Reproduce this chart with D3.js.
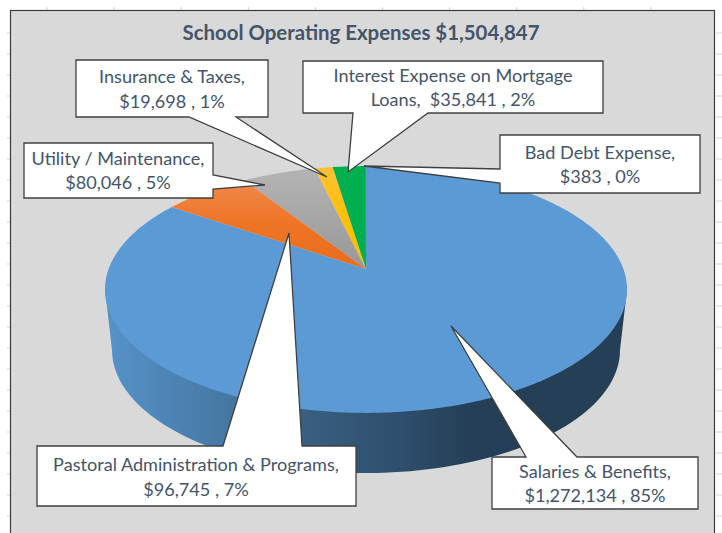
<!DOCTYPE html>
<html lang="en">
<head>
<meta charset="utf-8">
<title>School Operating Expenses</title>
<script src="https://cdn.jsdelivr.net/npm/d3@7"></script>
<style>
  html, body { margin: 0; padding: 0; background: #fff; }
  svg { display: block; }
  text { font-family: Lato, "Open Sans", sans-serif; fill: #44546a; white-space: pre; }
</style>
</head>
<body>
<script>
// data, clockwise from 12 o'clock
var categories = ["Salaries & Benefits", "Pastoral Administration & Programs", "Utility / Maintenance", "Insurance & Taxes", "Interest Expense on Mortgage Loans", "Bad Debt Expense"]
var amounts = [1272134, 96745, 80046, 19698, 35841, 383]
var percentLabels = ["85%", "7%", "5%", "1%", "2%", "0%"]
var titleText = "School Operating Expenses $1,504,847"

var w = 722, h = 533
var svg = d3.select("body").append("svg").attr("width", w).attr("height", h)
var defs = svg.append("defs")

// pie geometry, the picture is a tilted pie so the centre sits above the middle of the ellipse
var cx = 366, cy = 269
var tilt = 0.166
var xScale = d3.scaleLinear().domain([-1, 1]).range([cx - 257.4, cx + 257.4])
var yScale = d3.scaleLinear().domain([-1, 1]).range([cy + 120, cy - 120])

function project(angle, r) {
    var X = r * Math.sin(angle), Y = r * Math.cos(angle)
    var k = 1 + tilt * Y
    return [xScale(X / k), yScale(Y / k)]
}

// spreadsheet tick marks behind the chart
var ticks = svg.append("g").attr("stroke", "#d4d4d4").attr("stroke-width", 1)
d3.range(47, 700, 67.1).forEach(function(x) {
    ticks.append("line").attr("x1", x).attr("x2", x).attr("y1", 7).attr("y2", 10)
})
d3.range(33, h, 21).forEach(function(y) {
    ticks.append("line").attr("x1", 7).attr("x2", 10).attr("y1", y).attr("y2", y)
    ticks.append("line").attr("x1", 716).attr("x2", 722).attr("y1", y).attr("y2", y)
})

// chart area, no bottom border because the crop cuts it off
svg.append("rect").attr("x", 10.5).attr("y", 10.5).attr("width", 704).attr("height", h)
    .attr("fill", "#d9d9d9").attr("stroke", "#3c3c3c").attr("stroke-width", 1.2)

svg.append("text").attr("x", 361).attr("y", 40).attr("text-anchor", "middle")
    .style("font-size", "20.4px").style("font-weight", 700).text(titleText)

function gradient(id, attrs, stops) {
    var g = defs.append("linearGradient").attr("id", id).attr("gradientUnits", "userSpaceOnUse")
    for (var k in attrs) g.attr(k, attrs[k])
    stops.forEach(function(s) {
        g.append("stop").attr("offset", s[0]).attr("stop-color", s[1])
    })
}

gradient("side", {x1: 105, x2: 627, y1: 0, y2: 0}, [[0, "#5692c9"], [0.26, "#44759f"], [0.37, "#3a5f82"], [0.57, "#2e4e6c"], [0.7, "#243f56"], [1, "#243f56"]])
var vertical = {x1: 0, x2: 0, y1: 166, y2: 269}
gradient("orange", vertical, [[0.1, "#f08b4f"], [0.55, "#ef7526"], [1, "#e86d1c"]])
gradient("gray", vertical, [[0.1, "#b2b2b2"], [1, "#979797"]])
gradient("yellow", vertical, [[0, "#fdc035"], [0.6, "#ffc000"], [1, "#ffc000"]])

var colors = ["#5b9ad5", "url(#orange)", "url(#gray)", "url(#yellow)", "#00b050", "#255e91"]
var line = d3.line()

// side wall first, the top of the pie goes over it
var rimX = d3.scaleLinear().domain([-1, 1]).range([cx - 254, cx + 254])
var rimY = d3.scaleLinear().domain([-1, 1]).range([350 - 123, 350 + 123])
var rim = d3.range(0, 181, 2).map(function(d) {
    var a = d * Math.PI / 180
    return [rimX(-Math.cos(a)), rimY(Math.sin(a))]
})
svg.append("path")
    .attr("d", line([[105, 289.5]].concat(rim, [[627, 289.5]])) + "Z")
    .attr("fill", "url(#side)")

// slices
var pie = d3.pie().sort(null)
var slices = pie(amounts)
svg.append("g").selectAll("path")
    .data(slices)
    .enter()
    .append("path")
    .attr("d", function(d) {
        var n = Math.max(2, Math.ceil((d.endAngle - d.startAngle) / 0.01))
        var pts = d3.range(n + 1).map(function(i) {
            return project(d.startAngle + (d.endAngle - d.startAngle) * i / n, 1)
        })
        return line([[cx, cy]].concat(pts)) + "Z"
    })
    .attr("fill", function(d, i) { return colors[i] })

// callout boxes: box is x0,y0,x1,y1 and pointer is base, tip, base going clockwise
var callouts = [
    {i: 0, box: [492, 457, 698, 509], side: "top", pointer: [[526, 457], [451, 326], [577, 457]], lines: [472, 496], tx: 595},
    {i: 1, box: [37, 446, 356, 506], side: "top", pointer: [[223, 446], [289, 233], [302, 446]], lines: [465, 490], tx: 196},
    {i: 2, box: [24, 143, 213, 198], side: "right", pointer: [[213, 175], [265, 185], [213, 189]], lines: [159, 183], tx: 118},
    {i: 3, box: [76, 60, 268, 117], side: "bottom", pointer: [[236, 117], [327, 177], [189, 117]], lines: [77, 102], tx: 172},
    {i: 4, box: [303, 61, 603, 113], side: "bottom", pointer: [[428, 113], [348, 172], [353, 113]], lines: [76, 100], tx: 453},
    {i: 5, box: [500, 135, 700, 193], side: "left", pointer: [[500, 183], [364, 166], [500, 169]], lines: [153, 177], tx: 600}
]

function outline(c) {
    var b = c.box, p = c.pointer
    var tl = [b[0], b[1]], tr = [b[2], b[1]], br = [b[2], b[3]], bl = [b[0], b[3]]
    if (c.side == "top") return [tl].concat(p, [tr, br, bl])
    if (c.side == "right") return [tl, tr].concat(p, [br, bl])
    if (c.side == "bottom") return [tl, tr, br].concat(p, [bl])
    return [tl, tr, br, bl].concat(p)
}

function firstLine(i) {
    // the interest label wraps inside its name
    if (i == 4) return "Interest Expense on Mortgage"
    return categories[i] + ","
}
function secondLine(i) {
    var money = "$" + d3.format(",")(amounts[i]) + " , " + percentLabels[i]
    if (i == 4) return "Loans,  " + money
    return money
}

var boxes = svg.append("g").selectAll("g").data(callouts).enter().append("g")
boxes.append("path")
    .attr("d", function(c) { return line(outline(c)) + "Z" })
    .attr("fill", "#fff").attr("stroke", "#404040").attr("stroke-width", 1.3)
    .attr("stroke-linejoin", "miter")
boxes.append("text").attr("x", function(c) { return c.tx }).attr("y", function(c) { return c.lines[0] })
    .attr("dy", "0.35em").attr("text-anchor", "middle").style("font-size", "18.1px")
    .text(function(c) { return firstLine(c.i) })
boxes.append("text").attr("x", function(c) { return c.tx }).attr("y", function(c) { return c.lines[1] })
    .attr("dy", "0.35em").attr("text-anchor", "middle").style("font-size", "18.1px")
    .text(function(c) { return secondLine(c.i) })
</script>
</body>
</html>
